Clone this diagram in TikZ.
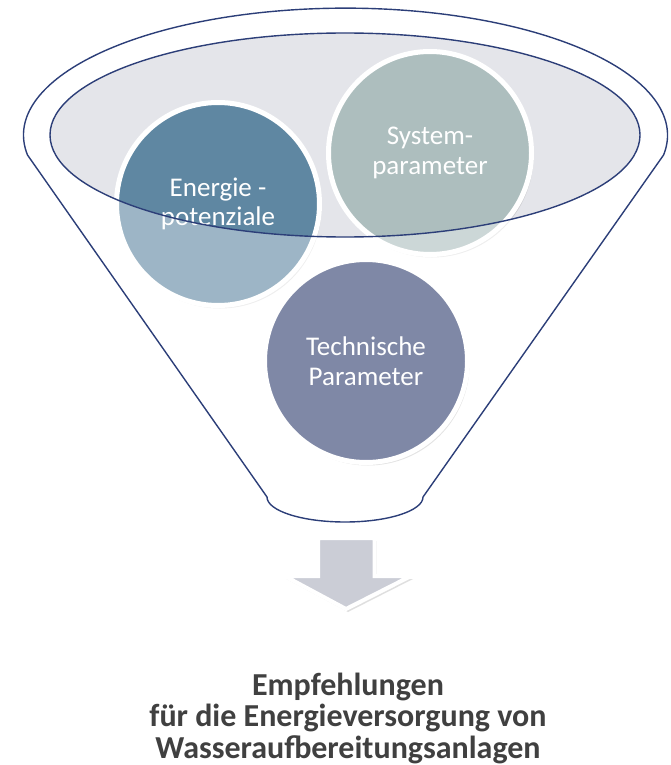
\documentclass[tikz,border=0pt]{standalone}
\usepackage{fontspec}
\setmainfont{Carlito}
\usetikzlibrary{shadows}

\definecolor{funnelblue}{RGB}{44,62,120}
\definecolor{rimgray}{RGB}{228,229,234}
\definecolor{energyblue}{RGB}{95,135,162}
\definecolor{systemgray}{RGB}{173,190,190}
\definecolor{techblue}{RGB}{127,136,166}
\definecolor{arrowgray}{RGB}{203,205,214}
\definecolor{captiongray}{RGB}{64,64,64}

\begin{document}
\begin{tikzpicture}[
		x=1pt,y=-1pt,
		funnel/.style={line width=1.4pt,draw=funnelblue,line join=round},
		rim/.style={line width=1.4pt,draw=funnelblue},
		bubble/.style={circle,draw=white,line width=5pt,minimum size=203pt,inner sep=0pt,
			text=white,align=center,font=\fontsize{27}{29.5}\selectfont,
			drop shadow={shadow xshift=2pt,shadow yshift=-3pt,opacity=0.22}},
		arrowbox/.style={fill=arrowgray,draw=white,line width=4pt,line join=miter,
			drop shadow={shadow xshift=2pt,shadow yshift=-3pt,opacity=0.25}},
		lab/.style={font=\bfseries\fontsize{32}{31.5}\selectfont,text=captiongray,align=center}
		]
		\useasboundingbox (0,0) rectangle (671,765);
		% ===== Parameters =====
		\def\cx{345}           % axis of the funnel
		\def\cy{135}           % centre height of the rim
		% ===== Opening of the funnel =====
		\fill[rimgray] (\cx,\cy) ellipse [x radius=295,y radius=102];
		% ===== Circles inside the rim =====
		\node[bubble,fill=energyblue] (energie) at (218,204) {Energie -\\potenziale};
		\node[bubble,fill=systemgray] (system) at (430,153) {System-\\parameter};
		% faded part below the rim
		\fill[white,opacity=0.39,even odd rule]
		(0,0) rectangle (671,765) (\cx,\cy) ellipse [x radius=295,y radius=102];
		\draw[rim] (\cx,\cy) ellipse [x radius=295,y radius=102];
		% ===== Lower circle =====
		\node[bubble,fill=techblue] (technik) at (366,361) {Technische\\Parameter};
		% ===== Funnel outline =====
		\draw[funnel] (27.5,155)
		arc[start angle=171,end angle=369,x radius=322,y radius=127]
		-- (423,497)
		arc[start angle=0,end angle=180,x radius=78,y radius=25]
		-- cycle;
		% ===== Down arrow =====
		\draw[arrowbox] (318,538) -- (374.5,538) -- (374.5,576) -- (411,576)
		-- (346,609) -- (284.5,576) -- (318,576) -- cycle;
		% ===== Result =====
		\node[lab] (ergebnis) at (348,718)
		{Empfehlungen\\für die Energieversorgung von\\Wasseraufbereitungsanlagen};
	\end{tikzpicture}
\end{document}
